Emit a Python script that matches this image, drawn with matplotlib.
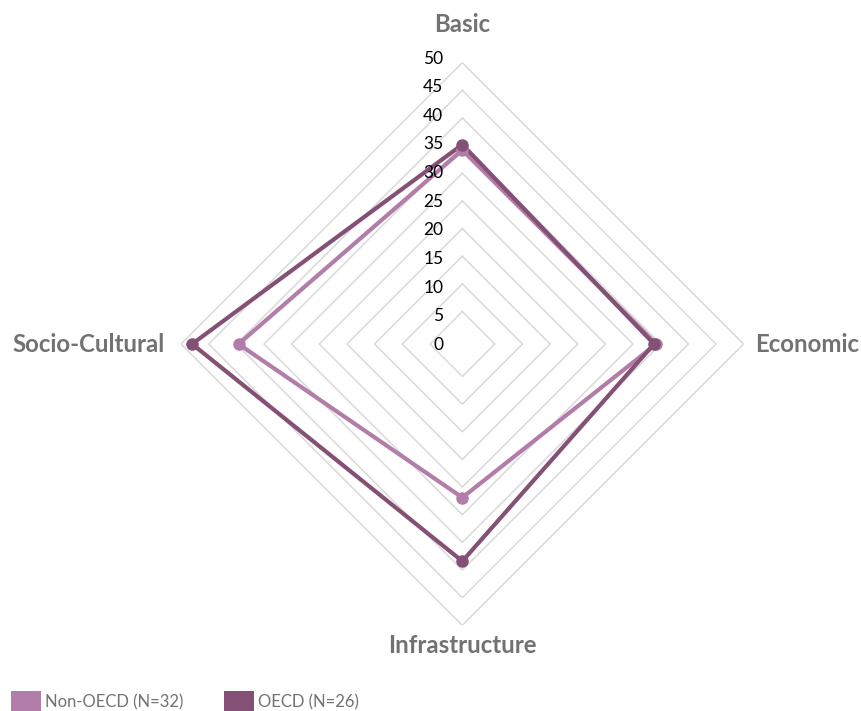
import numpy as np
import matplotlib
matplotlib.use("Agg")
import matplotlib.pyplot as plt
from matplotlib.patches import Patch

plt.rcParams['font.family'] = ['Lato', 'DejaVu Sans']

categories = ["Basic", "Economic", "Infrastructure", "Socio-Cultural"]
non_oecd = [34.2, 34.2, 26.9, 39.6]
oecd = [35.2, 33.8, 38.4, 48.0]
ring_values = [5, 10, 15, 20, 25, 30, 35, 40, 45, 50]
tick_labels = ["0", "5", "10", "15", "20", "25", "30", "35", "40", "45", "50"]

light = "#B27DA8"
dark = "#845075"
grid_col = "#D9D9D9"
label_col = "#727272"

fig = plt.figure(figsize=(8.62, 7.11), dpi=100)
ax = fig.add_axes([0.21, 0.1205, 0.6527, 0.7913], projection="polar")
ax.set_theta_zero_location("N")
ax.set_theta_direction(-1)
ax.set_ylim(0, 50)
ax.set_rorigin(-0.87)
ax.set_axis_off()

angles = np.linspace(0, 2 * np.pi, len(categories), endpoint=False)
closed = np.concatenate([angles, angles[:1]])

# diamond grid rings
for v in ring_values:
    ax.plot(closed, [v] * len(closed), color=grid_col, lw=1.1, zorder=1)

def draw(vals, col):
    vv = list(vals) + [vals[0]]
    ax.plot(closed, vv, color=col, lw=3, zorder=3, solid_joinstyle="miter")
    ax.plot(angles, vals, "o", color=col, ms=8, zorder=4)

draw(non_oecd, light)
draw(oecd, dark)

# radial tick labels (excel spaces them a bit wider than the rings)
for i, t in enumerate(tick_labels):
    ax.annotate(t, xy=(0, i * 5), xytext=(-19, -5.8 + 1.0 * i), textcoords="offset pixels",
                ha="right", va="center", fontsize=12.5, color="black")

# category labels
offsets = [((0, 38), "center"), ((11, 0), "left"), ((0, -20), "center"), ((-16, 0), "right")]
for ang, name, (off, ha) in zip(angles, categories, offsets):
    ax.annotate(name, xy=(ang, 50), xytext=off, textcoords="offset pixels",
                ha=ha, va="center", fontsize=17.3, fontweight="bold", color=label_col,
                annotation_clip=False)

handles = [Patch(facecolor=light, label="Non-OECD (N=32)"),
           Patch(facecolor=dark, label="OECD (N=26)")]
leg = fig.legend(handles=handles, loc="lower left", bbox_to_anchor=(0.005, -0.012),
                 ncol=2, frameon=False, handlelength=1.8, handleheight=1.6,
                 handletextpad=0.25, columnspacing=2.4, fontsize=12, borderaxespad=0)
for txt in leg.get_texts():
    txt.set_color(label_col)

fig.savefig("out.png", dpi=100)
